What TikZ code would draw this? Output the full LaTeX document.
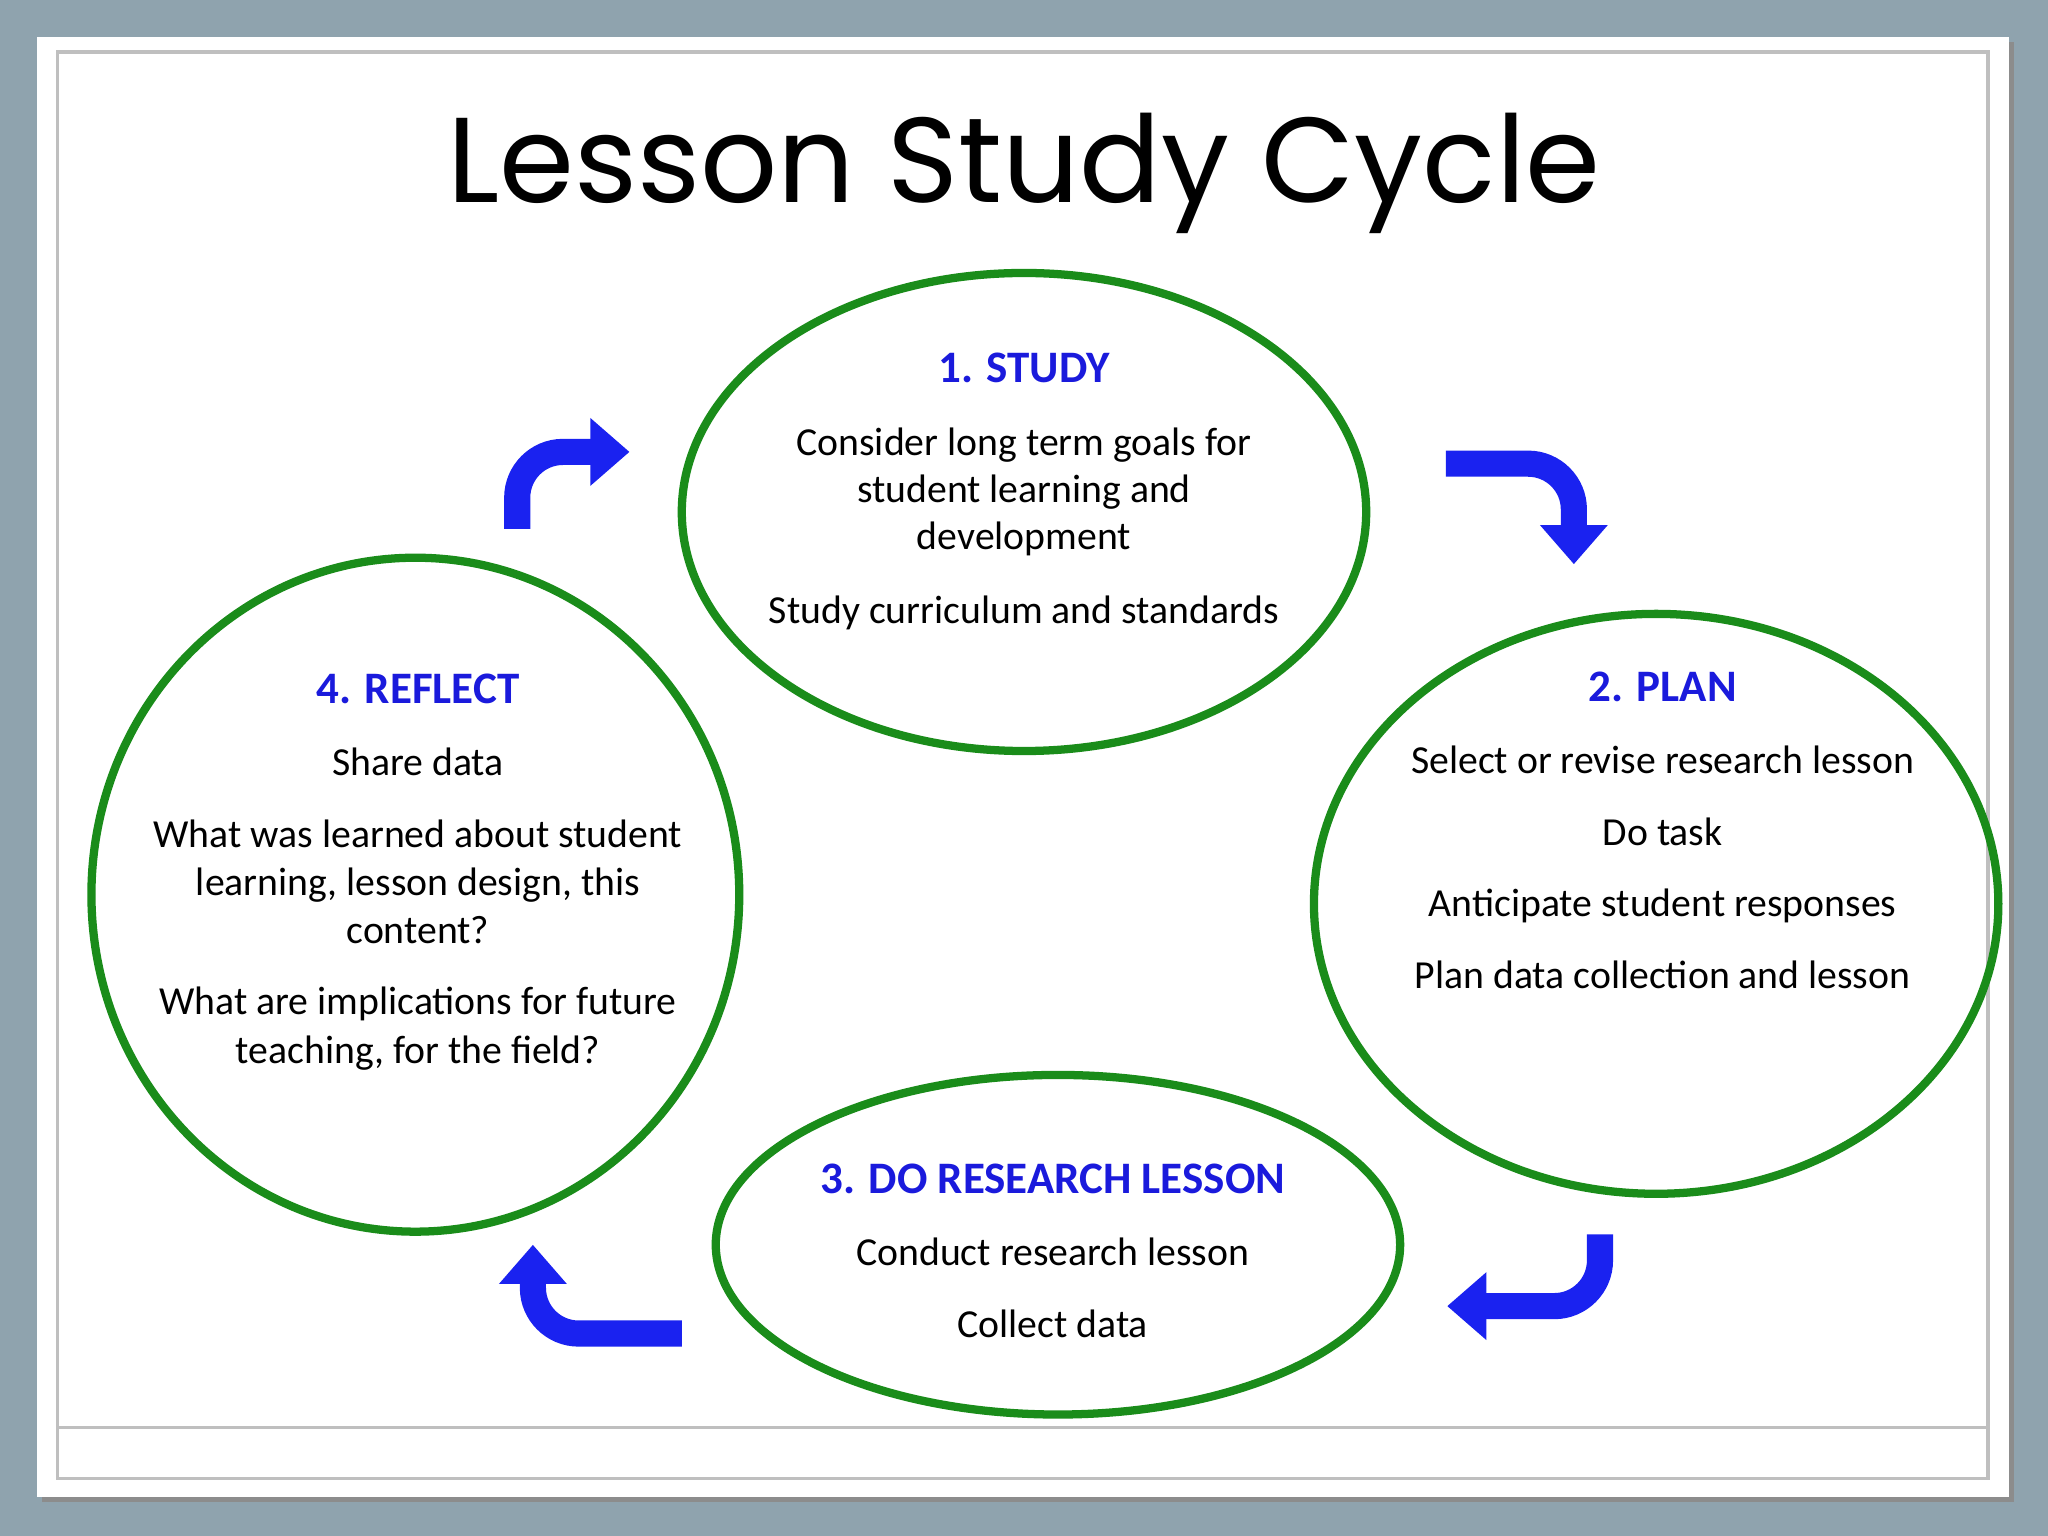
\documentclass[tikz,border=0pt]{standalone}
\usepackage{fontspec}
\setmainfont{Carlito}
\newfontfamily\titlefont{Poppins}
\usetikzlibrary{arrows.meta}
\definecolor{bg}{HTML}{8FA3AE}
\definecolor{ring}{HTML}{1A8C1A}
\definecolor{head}{HTML}{1A1ADC}
\definecolor{arr}{HTML}{1A22F0}
\tikzset{
  ring/.style={draw=ring,line width=1.8pt},
  hd/.style={font=\fontsize{9.8}{12}\selectfont\bfseries,text=head,anchor=base},
  tx/.style={font=\fontsize{8.65}{10.5}\selectfont,anchor=base},
  bentarrow/.style={draw=arr,line width=0.2cm,rounded corners=0.35cm,-{Triangle[width=0.5cm,length=0.3cm]}}
}
\begin{document}
\begin{tikzpicture}[x=0.01cm,y=-0.01cm]
\fill[bg] (0,0) rectangle (1568,1176);
\useasboundingbox (0,0) rectangle (1568,1176);
\fill[black!45] (32,32) rectangle (1542,1150);
\fill[white] (28,28) rectangle (1538,1146);
\draw[black!25,line width=0.8pt] (44,40) rectangle (1522,1132);
\draw[black!25,line width=0.8pt] (44,1093) -- (1522,1093);
\node[font=\titlefont\fontsize{26.3}{32}\selectfont,anchor=base] (title) at (784,155) {Lesson Study Cycle};
% ellipses
\draw[ring] (784,392) ellipse [x radius=262,y radius=183];
\draw[ring] (1268,692) ellipse [x radius=262,y radius=222];
\draw[ring] (810,953) ellipse [x radius=262,y radius=130];
\draw[ring] (318,685) ellipse [x radius=248,y radius=258];
% study
\node[hd] (s0) at (784,293) {1. STUDY};
\node[tx] (s1) at (784,349) {Consider long term goals for};
\node[tx] (s2) at (784,385) {student learning and};
\node[tx] (s3) at (784,421) {development};
\node[tx] (s4) at (784,477) {Study curriculum and standards};
% plan
\node[hd] (p0) at (1273,537) {2. PLAN};
\node[tx] (p1) at (1273,592) {Select or revise research lesson};
\node[tx] (p2) at (1273,647) {Do task};
\node[tx] (p3) at (1273,702) {Anticipate student responses};
\node[tx] (p4) at (1273,757) {Plan data collection and lesson};
% do
\node[hd] (d0) at (806,914) {3. DO RESEARCH LESSON};
\node[tx] (d1) at (806,969) {Conduct research lesson};
\node[tx] (d2) at (806,1024) {Collect data};
% reflect
\node[hd] (r0) at (320,539) {4. REFLECT};
\node[tx] (r1) at (320,594) {Share data};
\node[tx] (r2) at (320,649) {What was learned about student};
\node[tx] (r3) at (320,686) {learning, lesson design, this};
\node[tx] (r4) at (320,722) {content?};
\node[tx] (r5) at (320,777) {What are implications for future};
\node[tx] (r6) at (320,814) {teaching, for the field?};
% arrows
\coordinate (a1s) at (396,405); \coordinate (a1m) at (396,346); \coordinate (a1e) at (482,346);
\coordinate (a2s) at (1107,355); \coordinate (a2m) at (1205,355); \coordinate (a2e) at (1205,432);
\coordinate (a3s) at (1225,945); \coordinate (a3m) at (1225,1000); \coordinate (a3e) at (1108,1000);
\coordinate (a4s) at (522,1021); \coordinate (a4m) at (408,1021); \coordinate (a4e) at (408,953);
\draw[bentarrow] (a1s) -- (a1m) -- (a1e);
\draw[bentarrow] (a2s) -- (a2m) -- (a2e);
\draw[bentarrow] (a3s) -- (a3m) -- (a3e);
\draw[bentarrow] (a4s) -- (a4m) -- (a4e);
\end{tikzpicture}
\end{document}
